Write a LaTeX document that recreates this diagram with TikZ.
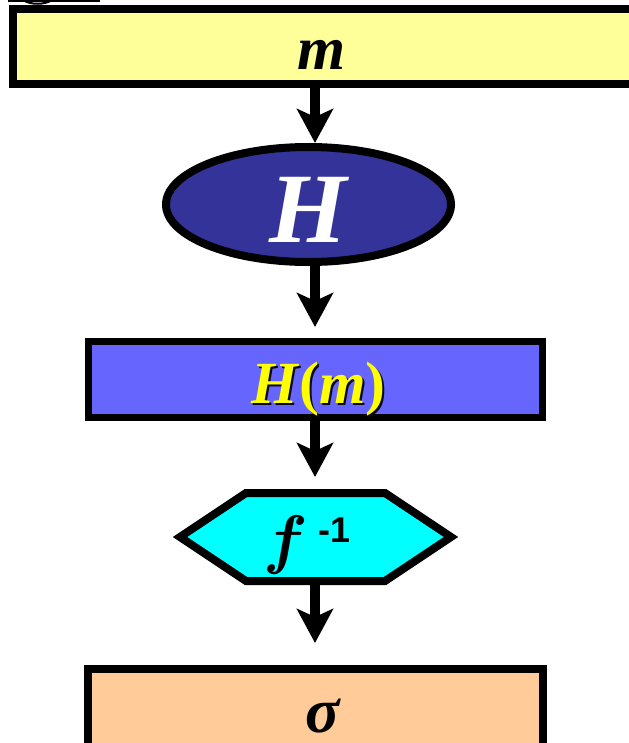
\documentclass[tikz,border=0pt]{standalone}
\usepackage{fontspec}
\usepackage{graphicx}
\setmainfont{Liberation Serif}
\newfontfamily\lsans{Liberation Sans}
\usetikzlibrary{arrows.meta,shapes.geometric}
\definecolor{boxyellow}{RGB}{255,255,153}
\definecolor{ellblue}{RGB}{51,51,153}
\definecolor{hmblue}{RGB}{102,102,255}
\definecolor{hexcyan}{RGB}{0,255,255}
\definecolor{sigorange}{RGB}{255,204,153}
\definecolor{txtyellow}{RGB}{255,255,0}
\begin{document}
\begin{tikzpicture}[x=1bp,y=-1bp,
  box/.style={draw=black, rectangle, inner sep=0pt},
  arr/.style={line width=10bp, -{Stealth[length=34bp,width=36bp,inset=8bp]}},
  bigtxt/.style={anchor=base, inner sep=0pt, font=\bfseries\itshape\fontsize{#1}{#1}\selectfont},
]
\useasboundingbox (0,0) rectangle (629,743);
% cut-off fragment at the top left
\draw[line width=2bp] (8,1) -- (100,1);
\draw[line width=2bp] (23,0) .. controls (30,5) and (45,5) .. (52,0);

% shapes
\node[box, line width=8bp, outer sep=4bp, fill=boxyellow, minimum width=640bp, minimum height=75bp] (mbox) at (333,46.5) {};
\node[ellipse, draw=black, line width=8bp, outer sep=4bp, fill=ellblue, inner sep=0pt, minimum width=285bp, minimum height=115bp] (Hell) at (308.5,204.5) {};
\node[box, line width=7bp, outer sep=3.5bp, fill=hmblue, minimum width=453bp, minimum height=75.5bp] (hmbox) at (315.5,379.25) {};
\node[rectangle, inner sep=0pt, outer sep=0pt, minimum width=285bp, minimum height=96bp] (fhex) at (315.5,537) {};
\draw[line width=8bp, line join=miter, fill=hexcyan] (180,537) -- (246,493) -- (385,493) -- (451,537) -- (385,581) -- (246,581) -- cycle;
\node[box, line width=8bp, outer sep=4bp, fill=sigorange, minimum width=455bp, minimum height=100bp] (sigbox) at (315.5,719) {};

% texts
\node[bigtxt=62, text=black] (mt) at (321.5,70) {m};
\node[bigtxt=100, text=white] (Ht) at (308,242) {H};
\node[bigtxt=60, text=black!85!ellblue] (hmshadow) at (320.5,405.5) {H\textup{(}m\textup{)}};
\node[bigtxt=60, text=txtyellow] (hmt) at (318.5,403) {H\textup{(}m\textup{)}};
\node[anchor=base, inner sep=0pt] (ft) at (286,561) {\scalebox{6.6}{\boldmath$f$}};
\node[anchor=base, inner sep=0pt, font=\lsans\bfseries\fontsize{36}{36}\selectfont] (expt) at (334,542) {-1};
\node[bigtxt=64, text=black] (sigt) at (322.5,732) {σ};

% connectors
\coordinate (xa) at (315,0);
\draw[arr] (mbox.south -| xa) -- (Hell.north -| xa);
\draw[arr, shorten >=11bp] (Hell.south -| xa) -- (hmbox.north -| xa);
\draw[arr, shorten >=12bp] (hmbox.south -| xa) -- (fhex.north -| xa);
\draw[arr, shorten >=22bp] (fhex.south -| xa) -- (sigbox.north -| xa);
\end{tikzpicture}
\end{document}
